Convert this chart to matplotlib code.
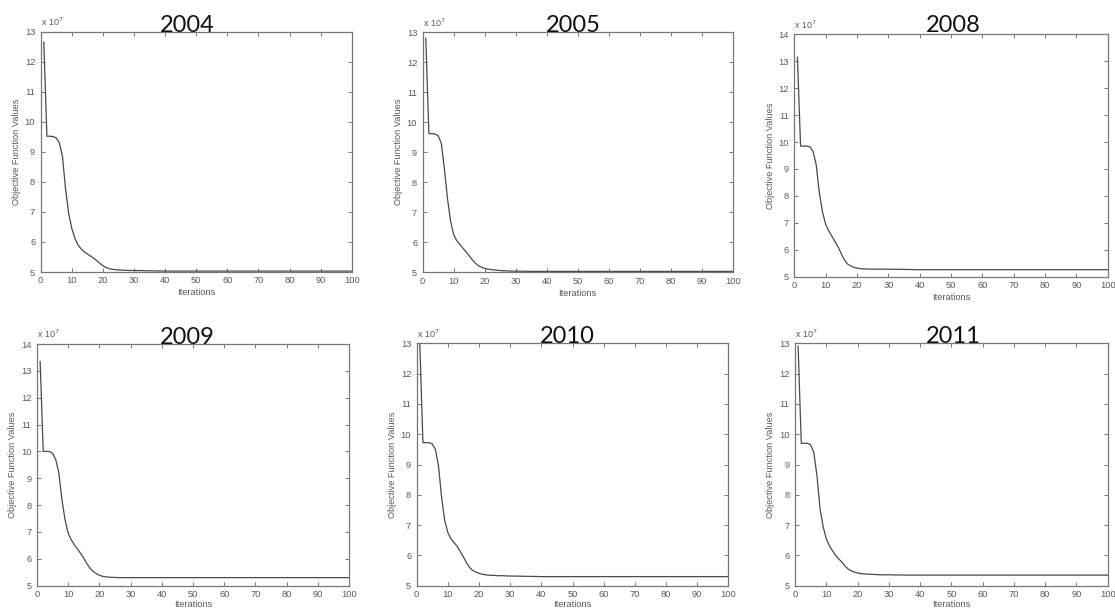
import matplotlib
matplotlib.use("Agg")
import matplotlib.pyplot as plt

# ---------------- data (values in units of 1e7) ----------------
years = ["2004", "2005", "2008", "2009", "2010", "2011"]

iterations = list(range(1, 31)) + [35, 40, 50, 60, 70, 80, 90, 100]

obj_2004 = [12.65, 9.52, 9.52, 9.51, 9.46, 9.30, 8.85, 7.75, 6.95, 6.45,
            6.12, 5.90, 5.77, 5.67, 5.60, 5.53, 5.46, 5.38, 5.29, 5.21,
            5.15, 5.11, 5.09, 5.08, 5.07, 5.06, 5.06, 5.05, 5.05, 5.05,
            5.04, 5.03, 5.03, 5.03, 5.03, 5.03, 5.03, 5.03]
obj_2005 = [12.80, 9.62, 9.62, 9.61, 9.55, 9.30, 8.45, 7.45, 6.70, 6.25,
            6.05, 5.93, 5.80, 5.68, 5.55, 5.42, 5.30, 5.22, 5.17, 5.13,
            5.11, 5.09, 5.08, 5.07, 5.06, 5.05, 5.05, 5.04, 5.04, 5.04,
            5.03, 5.03, 5.03, 5.03, 5.03, 5.03, 5.03, 5.03]
obj_2008 = [13.15, 9.85, 9.85, 9.85, 9.82, 9.65, 9.15, 8.10, 7.40, 6.95,
            6.70, 6.50, 6.30, 6.10, 5.85, 5.62, 5.47, 5.40, 5.35, 5.32,
            5.30, 5.29, 5.29, 5.28, 5.28, 5.28, 5.28, 5.28, 5.28, 5.28,
            5.27, 5.26, 5.26, 5.26, 5.26, 5.26, 5.26, 5.26]
obj_2009 = [13.35, 10.00, 10.00, 10.00, 9.93, 9.70, 9.20, 8.20, 7.45, 6.95,
            6.70, 6.52, 6.36, 6.20, 6.02, 5.82, 5.65, 5.53, 5.45, 5.39,
            5.35, 5.33, 5.32, 5.31, 5.31, 5.30, 5.30, 5.30, 5.30, 5.30,
            5.30, 5.30, 5.30, 5.30, 5.30, 5.30, 5.30, 5.30]
obj_2010 = [12.98, 9.72, 9.72, 9.72, 9.68, 9.50, 8.95, 7.90, 7.15, 6.75,
            6.55, 6.42, 6.30, 6.12, 5.95, 5.75, 5.60, 5.50, 5.45, 5.41,
            5.38, 5.36, 5.35, 5.34, 5.34, 5.33, 5.33, 5.33, 5.32, 5.32,
            5.31, 5.30, 5.30, 5.30, 5.30, 5.30, 5.30, 5.30]
obj_2011 = [12.90, 9.70, 9.70, 9.70, 9.65, 9.40, 8.65, 7.55, 6.95, 6.55,
            6.32, 6.15, 6.00, 5.88, 5.78, 5.65, 5.55, 5.49, 5.45, 5.42,
            5.40, 5.39, 5.38, 5.38, 5.37, 5.37, 5.36, 5.36, 5.36, 5.36,
            5.35, 5.35, 5.35, 5.35, 5.35, 5.35, 5.35, 5.35]

series = [obj_2004, obj_2005, obj_2008, obj_2009, obj_2010, obj_2011]
y_tops = [13, 13, 14, 14, 13, 13]

# ---------------- layout (pixels in a 1115x609 canvas) ----------------
W, H = 1115, 609
axes_px = [  # left, right, top, bottom
    (40.7, 351.7, 31.7, 272.0),
    (422.7, 732.7, 32.3, 272.3),
    (794.3, 1107.7, 34.3, 276.7),
    (37.0, 349.0, 344.0, 585.7),
    (416.7, 728.3, 343.3, 585.7),
    (795.0, 1107.7, 343.3, 585.7),
]
title_px = [(187, 31.5), (573, 32.0), (953, 32.0),
            (187, 343.5), (567, 343.0), (953, 343.0)]

plt.rcParams['font.family'] = ['Liberation Sans', 'DejaVu Sans']

fig = plt.figure(figsize=(W / 100, H / 100), dpi=100)
fig.patch.set_facecolor('white')

label_col = '#5a5a5a'
frame_col = '#777777'

for i, (yr, vals, ytop) in enumerate(zip(years, series, y_tops)):
    l, r, t, b = axes_px[i]
    ax = fig.add_axes([l / W, 1 - b / H, (r - l) / W, (b - t) / H])
    ax.plot(iterations, vals, color='#4a4a4a', linewidth=0.9)
    ax.set_xlim(0, 100)
    ax.set_ylim(5, ytop)
    ax.set_xticks(range(0, 101, 10))
    ax.set_yticks(range(5, ytop + 1))
    ax.tick_params(direction='in', length=3, width=0.7, colors=frame_col,
                   labelcolor=label_col, labelsize=6.7,
                   top=True, right=True)
    ax.tick_params(axis='x', pad=3.2)
    ax.tick_params(axis='y', pad=4)
    for sp in ax.spines.values():
        sp.set_color(frame_col)
        sp.set_linewidth(0.9)
    ax.set_xlabel('Iterations', fontsize=6.7, color=label_col,
                  labelpad=2 if i < 3 else 0.5)
    ax.set_ylabel('Objective Function Values', fontsize=6.6, color=label_col,
                  labelpad=2.5)
    ax.text(0.0, 1.015, r'x 10$^7$', transform=ax.transAxes, fontsize=6.5,
            color=label_col, ha='left', va='bottom')
    tx, ty = title_px[i]
    fig.text(tx / W, 1 - ty / H, yr, fontsize=17, family='Lato',
             color='#111111', ha='center', va='baseline')

fig.savefig('out.png', dpi=100, facecolor='white')
